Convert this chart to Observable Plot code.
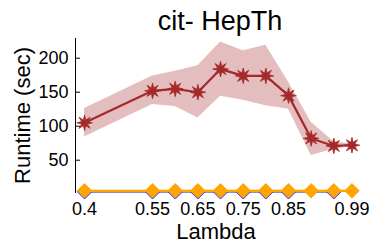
<!DOCTYPE html>
<html><head><meta charset="utf-8">
<script src="https://cdn.jsdelivr.net/npm/d3@7"></script>
<script src="https://cdn.jsdelivr.net/npm/@observablehq/plot@0.6"></script>
<style>body{margin:0;background:#fff} svg{display:block}</style>
</head><body><div id="chart"></div>
<script>
const lambda = [0.4, 0.55, 0.6, 0.65, 0.7, 0.75, 0.8, 0.85, 0.9, 0.95, 0.99];
const runtimeMean = [105, 152, 155, 150, 184, 174, 174, 145, 82, 71, 72];
const runtimeUpper = [126, 174, 181, 189, 224, 211, 219, 165, 106, 77, 74];
const runtimeLower = [84, 132, 129, 112, 144, 138, 130, 125, 57, 66, 70];
const orangeRuntime = [5, 5, 5, 5, 5, 5, 5, 5, 5, 5, 5];
const blueRuntime = [3.5, 3.5, 3.5, 3.5, 3.5, 3.5, 3.5, 3.5, null, 3.5, null];
const xTicks = [0.4, 0.55, 0.65, 0.75, 0.85, 0.99];
const yTicks = [50, 100, 150, 200];
const titleText = "cit- HepTh";
const xLabel = "Lambda";
const yLabel = "Runtime (sec)";

const rows = lambda.map((x, i) => ({x, mean: runtimeMean[i], upper: runtimeUpper[i], lower: runtimeLower[i], orange: orangeRuntime[i], blue: blueRuntime[i]}));

const star8 = {
  draw(context, size) {
    const R = Math.sqrt(size / Math.PI) * 1.35, r = R * 0.4;
    for (let k = 0; k < 16; k++) {
      const a = k * Math.PI / 8 - Math.PI / 2;
      const rr = k % 2 === 0 ? R : r;
      const px = rr * Math.cos(a), py = rr * Math.sin(a);
      if (k === 0) context.moveTo(px, py); else context.lineTo(px, py);
    }
    context.closePath();
  }
};

const red = "#a4292b";
const orange = "#ffa500";
const blue = "#3a3aff";

const chart = Plot.plot({
  width: 374,
  height: 249,
  marginLeft: 75,
  marginRight: 18,
  marginTop: 38,
  marginBottom: 57,
  style: {fontFamily: "'Liberation Sans', Arial, sans-serif", color: "#000", background: "#fff"},
  x: {domain: [0.38, 1.0], axis: null},
  y: {domain: [2.5, 229], axis: null},
  marks: [
    Plot.areaY(rows, {x: "x", y1: "lower", y2: "upper", fill: red, fillOpacity: 0.3}),
    Plot.line(rows, {x: "x", y: "mean", stroke: red, strokeWidth: 2.2}),
    Plot.dot(rows, {x: "x", y: "mean", symbol: star8, r: 5.8, fill: red, stroke: red, strokeWidth: 0.8}),
    Plot.line(rows.filter(d => d.blue != null), {x: "x", y: "blue", stroke: "#1a1a9a", strokeWidth: 1.5}),
    Plot.dot(rows.filter(d => d.blue != null), {x: "x", y: "blue", symbol: "diamond2", r: 6.5, fill: blue, stroke: blue, strokeWidth: 1}),
    Plot.line(rows, {x: "x", y: "orange", stroke: orange, strokeWidth: 2.2}),
    Plot.dot(rows, {x: "x", y: "orange", symbol: "diamond2", r: 6.5, fill: orange, stroke: orange, strokeWidth: 1}),
    Plot.frame({anchor: "left", stroke: "#000", strokeWidth: 1}),
    Plot.axisY(yTicks, {anchor: "left", tickSize: -5, tickPadding: 12, fontSize: 18, label: null, stroke: "#000"}),
    Plot.axisX(xTicks, {anchor: "bottom", tickSize: 0, tickPadding: 10, fontSize: 18, label: null, tickFormat: d => String(d)}),
    Plot.text([xLabel], {frameAnchor: "bottom", dy: 39, fontSize: 22, lineAnchor: "middle"}),
    Plot.text([yLabel], {frameAnchor: "left", textAnchor: "middle", rotate: -90, dx: -53, fontSize: 22, lineAnchor: "middle"}),
    Plot.text([titleText], {frameAnchor: "top", dy: -17, dx: 4, fontSize: 27, lineAnchor: "middle"})
  ]
});
document.getElementById("chart").append(chart);
</script>
</body></html>
